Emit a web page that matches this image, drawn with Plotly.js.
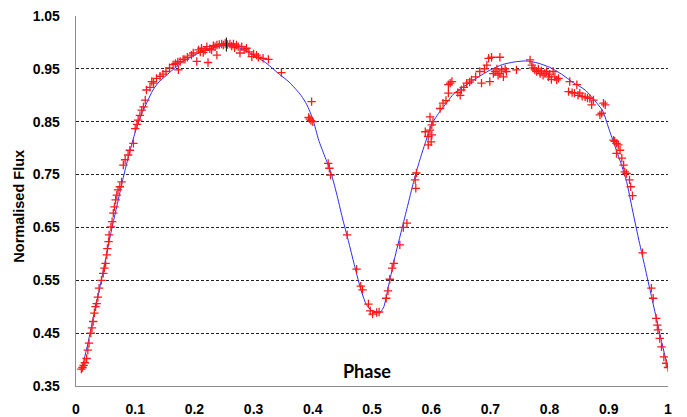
<!DOCTYPE html>
<html>
<head>
<meta charset="utf-8">
<script src="https://cdn.plot.ly/plotly-3.0.1.min.js"></script>
<style>html,body{margin:0;padding:0;background:#fff;}#chart{width:687px;height:417px;}</style>
</head>
<body>
<div id="chart"></div>
<script>
// Model light curve (blue line)
const modelPhase = [0.008,0.01,0.02,0.03,0.04,0.05,0.06,0.07,0.08,0.09,0.10,0.11,0.12,0.13,0.14,0.15,0.16,0.18,0.20,0.22,0.24,0.25,0.26,0.28,0.30,0.32,0.333,0.34,0.36,0.38,0.39,0.40,0.41,0.42,0.43,0.44,0.45,0.46,0.47,0.48,0.49,0.50,0.51,0.515,0.52,0.53,0.54,0.55,0.56,0.57,0.58,0.59,0.60,0.61,0.62,0.64,0.66,0.68,0.70,0.72,0.74,0.76,0.78,0.80,0.82,0.84,0.86,0.88,0.89,0.90,0.91,0.92,0.93,0.94,0.95,0.96,0.97,0.98,0.99,1.00];
const modelFlux  = [0.381,0.385,0.43,0.485,0.535,0.59,0.645,0.695,0.745,0.79,0.83,0.862,0.887,0.91,0.925,0.935,0.945,0.963,0.976,0.986,0.992,0.994,0.994,0.988,0.976,0.962,0.95,0.943,0.925,0.90,0.882,0.855,0.815,0.785,0.756,0.715,0.668,0.625,0.58,0.537,0.505,0.492,0.49,0.491,0.50,0.55,0.60,0.645,0.69,0.735,0.775,0.81,0.843,0.862,0.877,0.905,0.92,0.935,0.948,0.958,0.963,0.965,0.961,0.953,0.94,0.924,0.91,0.885,0.87,0.837,0.805,0.773,0.737,0.683,0.63,0.58,0.53,0.48,0.43,0.383];

// Observed data (red crosses)
const obsPhase = [0.009,0.011,0.013,0.015,0.018,0.020,0.022,0.025,0.027,0.029,0.031,0.033,0.035,0.037,0.039,0.043,0.046,0.048,0.050,0.052,0.053,0.055,0.056,0.059,0.061,0.063,0.065,0.067,0.069,0.071,0.074,0.077,0.080,0.083,0.088,0.091,0.097,0.100,0.103,0.105,0.108,0.111,0.114,0.117,0.119,0.125,0.128,0.131,0.136,0.142,0.147,0.152,0.158,0.164,0.168,0.172,0.176,0.173,0.181,0.184,0.188,0.195,0.198,0.204,0.207,0.210,0.212,0.215,0.218,0.221,0.223,0.226,0.229,0.232,0.235,0.238,0.238,0.242,0.246,0.249,0.252,0.256,0.260,0.263,0.266,0.268,0.271,0.274,0.277,0.280,0.284,0.288,0.292,0.297,0.300,0.305,0.308,0.316,0.325,0.347,
0.393,0.395,0.397,0.398,0.400,0.426,0.428,0.430,0.458,0.474,0.481,0.484,0.494,0.497,0.501,0.508,0.512,0.524,0.527,0.530,0.534,0.537,0.547,0.553,0.559,0.573,0.574,0.575,0.590,0.595,0.595,0.598,0.598,0.600,0.601,0.601,0.603,0.615,0.620,0.625,0.629,0.629,0.632,0.635,0.645,0.649,0.651,0.655,0.660,0.665,0.668,0.675,0.682,0.685,0.690,0.694,0.697,0.699,0.702,0.705,0.708,0.711,0.713,0.716,0.716,0.719,0.722,0.725,0.727,0.744,0.767,0.770,0.772,0.775,0.778,0.781,0.784,0.786,0.789,0.792,0.795,0.798,0.800,0.803,0.806,0.809,0.812,0.815,0.832,0.834,0.838,0.842,0.846,0.848,0.851,0.855,0.860,0.864,0.868,0.871,0.874,0.885,0.888,0.891,0.894,0.908,0.910,0.913,0.913,0.916,0.919,0.922,0.925,0.927,0.930,0.935,0.937,0.940,0.957,0.972,0.975,0.980,0.982,0.983,0.986,0.989,0.993,0.997,1.000];
const obsFlux = [0.382,0.385,0.389,0.394,0.402,0.418,0.431,0.450,0.460,0.472,0.488,0.500,0.506,0.518,0.535,0.550,0.563,0.573,0.582,0.598,0.610,0.623,0.636,0.651,0.661,0.677,0.689,0.702,0.711,0.721,0.727,0.736,0.768,0.778,0.787,0.796,0.809,0.837,0.845,0.853,0.862,0.872,0.878,0.891,0.910,0.915,0.926,0.923,0.932,0.936,0.940,0.945,0.952,0.958,0.960,0.963,0.964,0.948,0.968,0.968,0.972,0.976,0.980,0.964,0.986,0.982,0.989,0.981,0.985,0.992,0.962,0.988,0.986,0.994,0.992,0.995,0.976,0.996,0.997,0.995,0.998,0.996,0.997,0.993,0.997,0.990,0.995,0.992,0.980,0.992,0.986,0.989,0.982,0.973,0.978,0.976,0.972,0.970,0.968,0.943,
0.858,0.855,0.852,0.888,0.850,0.771,0.762,0.749,0.636,0.571,0.539,0.532,0.505,0.492,0.486,0.489,0.490,0.516,0.530,0.552,0.573,0.582,0.617,0.650,0.658,0.740,0.724,0.753,0.831,0.822,0.806,0.834,0.859,0.812,0.825,0.844,0.850,0.875,0.885,0.890,0.904,0.920,0.923,0.926,0.905,0.900,0.910,0.915,0.923,0.925,0.929,0.935,0.945,0.923,0.950,0.957,0.970,0.926,0.972,0.941,0.945,0.950,0.938,0.972,0.941,0.948,0.935,0.950,0.945,0.948,0.967,0.957,0.952,0.948,0.945,0.950,0.941,0.946,0.938,0.942,0.945,0.935,0.940,0.930,0.945,0.935,0.929,0.932,0.907,0.926,0.905,0.904,0.920,0.900,0.904,0.898,0.897,0.895,0.894,0.882,0.891,0.863,0.866,0.885,0.882,0.815,0.813,0.809,0.790,0.806,0.796,0.781,0.768,0.755,0.752,0.740,0.727,0.710,0.602,0.535,0.516,0.478,0.465,0.456,0.440,0.424,0.405,0.393,0.385];

const blackPhase = [0.254];
const blackFlux = [0.996];

const yTicks = [0.35,0.45,0.55,0.65,0.75,0.85,0.95,1.05];
const xTicks = [0,0.1,0.2,0.3,0.4,0.5,0.6,0.7,0.8,0.9,1];

const data = [
  {x: modelPhase, y: modelFlux, mode: 'lines', type: 'scatter',
   line: {color: '#2a2aff', width: 1, shape: 'spline', smoothing: 0.6}, hoverinfo: 'skip'},
  {x: obsPhase, y: obsFlux, mode: 'markers', type: 'scatter',
   marker: {symbol: 'cross-thin', size: 6, color: '#ff0000', line: {color: '#ff1a1a', width: 1.3}}},
  {x: blackPhase, y: blackFlux, mode: 'markers', type: 'scatter',
   marker: {symbol: 'line-ns', size: 10, color: '#000', line: {color: '#000', width: 1}}}
];

const tickFont = {family: 'Liberation Sans, Arial, sans-serif', size: 14, color: '#000', weight: 'bold'};

const layout = {
  width: 687, height: 417,
  margin: {l: 76, r: 19, t: 16, b: 31, pad: 0},
  paper_bgcolor: '#fff', plot_bgcolor: '#fff',
  showlegend: false,
  xaxis: {
    range: [0, 1], tickvals: xTicks, ticktext: xTicks.map(String),
    showgrid: false, zeroline: false, showline: true, linecolor: '#8c8c8c', linewidth: 1.3,
    ticks: '', tickfont: tickFont, ticklabelstandoff: 10
  },
  yaxis: {
    range: [0.35, 1.05], tickvals: yTicks, ticktext: yTicks.map(v => v.toFixed(2)),
    showgrid: true, gridcolor: '#222', gridwidth: 1, griddash: '3px,2px',
    zeroline: false, showline: true, linecolor: '#8c8c8c', linewidth: 1.3,
    ticks: '', tickfont: tickFont, ticklabelstandoff: 12
  },
  annotations: [
    {text: 'Phase', xref: 'paper', yref: 'paper', x: 0.491, y: 0.041, xanchor: 'center', yanchor: 'middle',
     showarrow: false, font: {family: 'Lato, sans-serif', size: 18, color: '#000', weight: 'bold'}},
    {text: 'Normalised Flux', xref: 'paper', yref: 'paper', x: -0.0954, y: 0.486, xanchor: 'center', yanchor: 'middle',
     textangle: -90, showarrow: false, font: {family: 'Liberation Sans, Arial, sans-serif', size: 14.5, color: '#000', weight: 'bold'}}
  ]
};

Plotly.newPlot('chart', data, layout, {displayModeBar: false, staticPlot: true});
</script>
</body>
</html>
